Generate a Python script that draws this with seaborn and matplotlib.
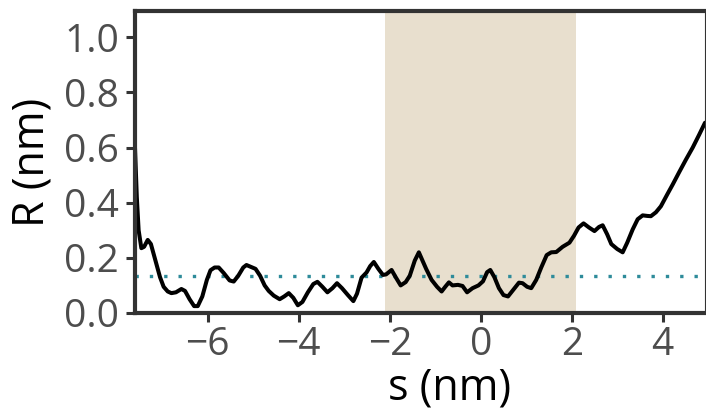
import numpy as np
import pandas as pd
import seaborn as sns
import matplotlib.pyplot as plt

# curve values
s_nm = [-7.60, -7.56, -7.52, -7.46, -7.40, -7.32, -7.25, -7.15, -7.05, -6.97,
        -6.88, -6.80, -6.70, -6.58, -6.50, -6.40, -6.30, -6.22, -6.12, -6.02,
        -5.94, -5.85, -5.76, -5.65, -5.52, -5.43, -5.33, -5.22, -5.15, -5.05,
        -4.95, -4.85, -4.75, -4.66, -4.55, -4.42, -4.32, -4.22, -4.12, -4.02,
        -3.92, -3.80, -3.68, -3.59, -3.48, -3.37, -3.26, -3.16, -3.05, -2.92,
        -2.80, -2.72, -2.62, -2.51, -2.43, -2.35, -2.25, -2.15, -2.08, -1.96,
        -1.87, -1.76, -1.65, -1.56, -1.45, -1.36, -1.28, -1.20, -1.08, -0.96,
        -0.86, -0.78, -0.70, -0.62, -0.50, -0.40, -0.30, -0.18, -0.05, 0.05,
        0.14, 0.21, 0.30, 0.40, 0.50, 0.60, 0.72, 0.84, 0.92, 1.02,
        1.11, 1.22, 1.33, 1.45, 1.55, 1.66, 1.80, 1.95, 2.05, 2.15,
        2.26, 2.38, 2.50, 2.60, 2.68, 2.78, 2.87, 3.00, 3.12, 3.22,
        3.34, 3.45, 3.56, 3.66, 3.74, 3.85, 3.96, 4.10, 4.22, 4.36,
        4.51, 4.66, 4.80, 4.93]
r_nm = [0.60, 0.42, 0.30, 0.235, 0.24, 0.265, 0.25, 0.19, 0.13, 0.095,
        0.078, 0.072, 0.075, 0.087, 0.08, 0.05, 0.025, 0.025, 0.06, 0.12,
        0.155, 0.165, 0.165, 0.145, 0.118, 0.114, 0.135, 0.165, 0.174, 0.167,
        0.16, 0.135, 0.10, 0.08, 0.063, 0.05, 0.06, 0.072, 0.055, 0.028,
        0.04, 0.075, 0.105, 0.113, 0.095, 0.075, 0.09, 0.108, 0.09, 0.065,
        0.043, 0.07, 0.128, 0.147, 0.17, 0.185, 0.16, 0.138, 0.14, 0.156,
        0.13, 0.10, 0.112, 0.135, 0.19, 0.22, 0.19, 0.16, 0.12, 0.095,
        0.078, 0.095, 0.111, 0.10, 0.102, 0.098, 0.075, 0.09, 0.10, 0.115,
        0.148, 0.156, 0.13, 0.09, 0.065, 0.06, 0.085, 0.11, 0.108, 0.095,
        0.09, 0.12, 0.165, 0.21, 0.22, 0.221, 0.24, 0.255, 0.28, 0.31,
        0.325, 0.31, 0.297, 0.312, 0.318, 0.285, 0.25, 0.232, 0.22, 0.255,
        0.303, 0.34, 0.354, 0.352, 0.351, 0.365, 0.387, 0.43, 0.466, 0.51,
        0.556, 0.60, 0.646, 0.69]

band = (-2.1, 2.1)
r_ref = 0.135
x_ticks = [-6, -4, -2, 0, 2, 4]
y_ticks = [0.0, 0.2, 0.4, 0.6, 0.8, 1.0]

sns.set_theme(style="white")
plt.rcParams['font.family'] = ['Open Sans', 'DejaVu Sans']

df = pd.DataFrame({'s': s_nm, 'R': r_nm})

fig = plt.figure(figsize=(7.06, 4.15), dpi=100)
ax = fig.add_axes([0.1912, 0.2458, 0.9986 - 0.1912, 0.9728 - 0.2458])

ax.axvspan(band[0], band[1], color='#E8DFCE', lw=0, zorder=0)
ax.axhline(r_ref, color='#2E8B9A', lw=2.4, ls=(0, (1, 3.3)), zorder=1)
sns.lineplot(data=df, x='s', y='R', color='black', lw=2.9, ax=ax, zorder=2)

ax.set_xlim(-7.6, 4.93)
ax.set_ylim(0, 1.094)
ax.set_xticks(x_ticks)
ax.set_yticks(y_ticks)
ax.set_yticklabels([f'{v:.1f}' for v in y_ticks])
ax.set_xticklabels([str(v).replace('-', '\u2212') for v in x_ticks])

ax.tick_params(axis='both', length=6.5, width=2.2, color='#333333',
               labelsize=28, labelcolor='#4D4D4D', pad=5, direction='out')
ax.tick_params(axis='x', pad=3)
ax.xaxis.set_ticks_position('bottom')
ax.yaxis.set_ticks_position('left')

for side in ['left', 'bottom', 'top']:
    ax.spines[side].set_color('#333333')
    ax.spines[side].set_linewidth(3)
ax.spines['right'].set_color('#333333')
ax.spines['right'].set_linewidth(0.8)

ax.set_xlabel('s (nm)', fontsize=31, color='black')
ax.set_ylabel('R (nm)', fontsize=31, color='black')
ax.xaxis.set_label_coords(0.551, -0.175)
ax.yaxis.set_label_coords(-0.142, 0.5)

fig.savefig('out.png', dpi=100)
